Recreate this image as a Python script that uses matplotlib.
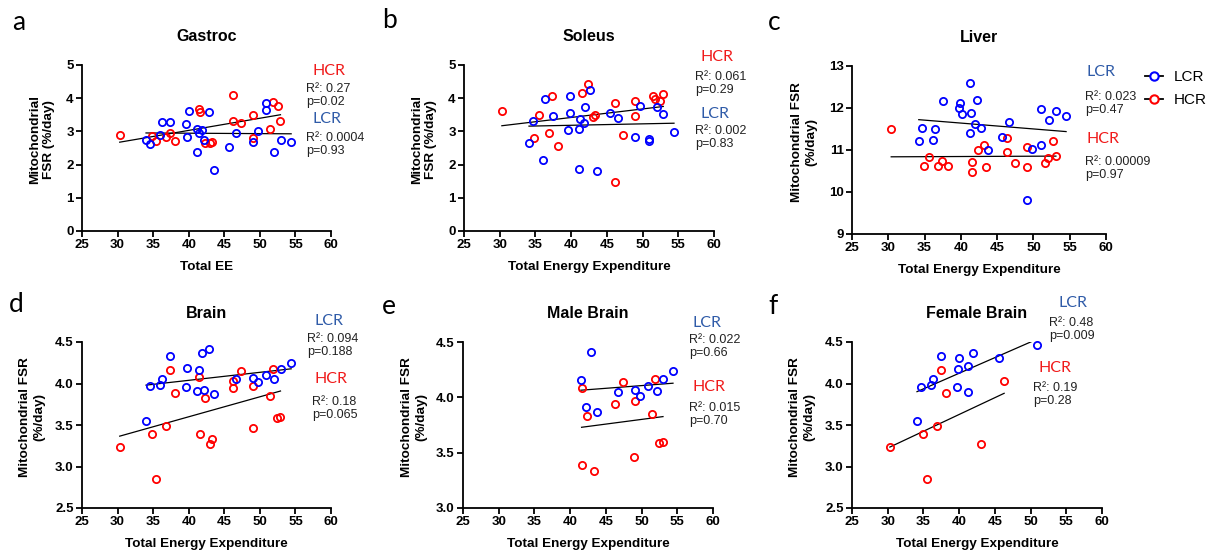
import matplotlib
matplotlib.use("Agg")
import matplotlib.pyplot as plt
from matplotlib.lines import Line2D
import numpy as np

plt.rcParams['font.family'] = ['Liberation Sans', 'DejaVu Sans']

# ---- data (x = total energy expenditure, y = mito FSR) ----
# Gastroc
gas_lcr_x = [34.0, 34.5, 36.0, 36.3, 37.4, 39.6, 40.0, 39.8, 41.1, 41.4, 41.8, 42.1, 41.1, 42.8,
             43.6, 45.6, 46.6, 49.7, 49.1, 50.9, 50.9, 53.0, 52.0, 54.4]
gas_lcr_y = [2.74, 2.62, 2.88, 3.29, 3.27, 3.21, 3.62, 2.84, 3.07, 2.96, 3.04, 2.74, 2.38, 3.59,
             1.84, 2.53, 2.96, 3.02, 2.69, 3.86, 3.65, 2.74, 2.38, 2.67]
gas_hcr_x = [30.3, 34.8, 35.4, 36.8, 37.3, 38.1, 41.5, 41.6, 42.3, 43.0, 43.3, 46.2, 46.2, 47.3,
             49.0, 49.0, 51.4, 51.8, 52.5, 52.9]
gas_hcr_y = [2.90, 2.86, 2.70, 2.83, 2.96, 2.70, 3.68, 3.59, 2.64, 2.64, 2.69, 4.10, 3.30, 3.26,
             3.49, 2.80, 3.08, 3.90, 3.75, 3.32]

# Soleus
sol_lcr_x = [34.1, 34.6, 36.0, 36.3, 37.4, 39.6, 39.8, 39.9, 41.1, 41.3, 41.1, 41.8, 42.0, 42.7,
             43.6, 45.5, 46.6, 49.0, 49.6, 50.9, 50.9, 52.0, 52.9, 54.4]
sol_lcr_y = [2.66, 3.31, 2.13, 3.97, 3.45, 3.03, 4.07, 3.56, 3.06, 3.37, 1.86, 3.26, 3.74, 4.24,
             1.80, 3.54, 3.41, 2.84, 3.77, 2.76, 2.71, 3.73, 3.52, 2.99]
sol_hcr_x = [30.3, 34.8, 35.5, 36.9, 37.3, 38.1, 41.5, 42.3, 43.1, 43.3, 46.2, 46.2, 47.3, 49.0,
             49.0, 51.4, 51.7, 52.5, 52.9]
sol_hcr_y = [3.60, 2.80, 3.50, 2.96, 4.06, 2.57, 4.16, 4.44, 3.43, 3.49, 3.86, 1.49, 2.90, 3.92,
             3.46, 4.07, 3.97, 3.93, 4.14]

# Liver
liv_lcr_x = [34.2, 34.7, 36.1, 36.5, 37.5, 39.7, 39.9, 40.1, 41.2, 41.4, 41.3, 41.9, 42.2, 42.8,
             43.7, 45.7, 46.7, 49.1, 49.8, 51.0, 51.0, 52.2, 53.1, 54.5]
liv_lcr_y = [11.22, 11.53, 11.24, 11.50, 12.16, 12.01, 12.12, 11.85, 12.60, 11.89, 11.41, 11.61,
             12.18, 11.52, 11.00, 11.30, 11.67, 9.80, 11.02, 11.11, 11.97, 11.71, 11.94, 11.82]
liv_hcr_x = [30.4, 34.9, 35.6, 36.9, 37.4, 38.2, 41.6, 41.6, 42.4, 43.2, 43.4, 46.4, 46.3, 47.4,
             49.1, 49.1, 51.6, 52.0, 52.7, 53.1]
liv_hcr_y = [11.49, 10.61, 10.83, 10.61, 10.74, 10.61, 10.72, 10.48, 10.99, 11.11, 10.60, 11.28,
             10.96, 10.68, 11.07, 10.60, 10.70, 10.80, 11.22, 10.85]

# Brain
bra_lcr_x = [34.0, 34.5, 36.0, 36.3, 37.4, 39.6, 39.8, 41.1, 41.4, 41.8, 42.1, 42.8, 43.6, 46.6,
             49.1, 49.7, 50.8, 52.0, 53.0, 54.4]
bra_lcr_y = [3.55, 3.97, 3.98, 4.05, 4.33, 3.96, 4.19, 3.91, 4.16, 4.37, 3.92, 4.41, 3.87, 4.05,
             4.07, 4.02, 4.10, 4.06, 4.18, 4.25]
bra_hcr_x = [30.3, 34.8, 35.4, 36.8, 37.3, 38.1, 41.5, 41.6, 42.3, 43.0, 43.3, 46.2, 46.2, 47.3,
             49.0, 49.0, 51.4, 51.8, 52.4, 52.9]
bra_hcr_y = [3.24, 3.39, 2.85, 3.49, 4.16, 3.88, 4.08, 3.39, 3.83, 3.27, 3.33, 4.03, 3.94, 4.15,
             3.97, 3.46, 3.85, 4.18, 3.59, 3.60]

# Male brain
mal_lcr_x = [41.5, 42.2, 42.9, 43.7, 46.65, 49.1, 49.8, 50.9, 52.1, 53.0, 54.4]
mal_lcr_y = [4.16, 3.91, 4.41, 3.87, 4.05, 4.07, 4.01, 4.10, 4.06, 4.17, 4.24]
mal_hcr_x = [41.6, 41.6, 42.4, 43.4, 46.3, 47.4, 49.0, 49.1, 51.5, 51.9, 52.5, 53.0]
mal_hcr_y = [4.08, 3.39, 3.83, 3.33, 3.94, 4.14, 3.46, 3.97, 3.85, 4.17, 3.59, 3.60]

# Female brain
fem_lcr_x = [34.1, 34.6, 36.1, 36.4, 37.4, 39.65, 39.9, 40.0, 41.2, 41.3, 41.9, 45.6, 50.9]
fem_lcr_y = [3.55, 3.96, 3.98, 4.05, 4.33, 3.96, 4.18, 4.31, 3.90, 4.21, 4.37, 4.31, 4.46]
fem_hcr_x = [30.3, 34.9, 35.5, 36.9, 37.4, 38.2, 43.1, 46.3]
fem_hcr_y = [3.24, 3.39, 2.85, 3.49, 4.16, 3.88, 3.27, 4.03]

titles = ['Gastroc', 'Soleus', 'Liver', 'Brain', 'Male Brain', 'Female Brain']
letters = ['a', 'b', 'c', 'd', 'e', 'f']
xlabels = ['Total EE'] + ['Total Energy Expenditure'] * 5
ylabels = ['Mitochondrial\nFSR (%/day)'] * 2 + ['Mitochondrial FSR\n(%/day)'] * 4
ylims = [(0, 5), (0, 5), (9, 13), (2.5, 4.5), (3.0, 4.5), (2.5, 4.5)]
yticks = [[0, 1, 2, 3, 4, 5], [0, 1, 2, 3, 4, 5], [9, 10, 11, 12, 13],
          [2.5, 3.0, 3.5, 4.0, 4.5], [3.0, 3.5, 4.0, 4.5], [2.5, 3.0, 3.5, 4.0, 4.5]]
stats_lcr = [('0.0004', '0.93'), ('0.002', '0.83'), ('0.023', '0.47'),
             ('0.094', '0.188'), ('0.022', '0.66'), ('0.48', '0.009')]
stats_hcr = [('0.27', '0.02'), ('0.061', '0.29'), ('0.00009', '0.97'),
             ('0.18', '0.065'), ('0.015', '0.70'), ('0.19', '0.28')]

data = [
    (gas_lcr_x, gas_lcr_y, gas_hcr_x, gas_hcr_y),
    (sol_lcr_x, sol_lcr_y, sol_hcr_x, sol_hcr_y),
    (liv_lcr_x, liv_lcr_y, liv_hcr_x, liv_hcr_y),
    (bra_lcr_x, bra_lcr_y, bra_hcr_x, bra_hcr_y),
    (mal_lcr_x, mal_lcr_y, mal_hcr_x, mal_hcr_y),
    (fem_lcr_x, fem_lcr_y, fem_hcr_x, fem_hcr_y),
]

W, H = 1213, 554
# axes boxes in pixels: left, right, top, bottom
boxes = [(82, 331, 65, 231), (464, 714, 65, 231), (852, 1106, 66, 234),
         (82, 331, 342, 508), (463, 713, 342, 508), (852, 1102, 342, 508)]
# y label right edge offset from the axis (pixels)
ylab_off = [27, 27, 35, 37, 36, 37]
# annotation anchors (pixels): (group label x, y), (stats x, R2 y)
ann_hcr = [((312, 71), (306, 89)), ((701, 57), (695, 77)), ((1087, 139), (1085, 162)),
           ((314, 379), (312, 402)), ((693, 387), (689, 408)), ((1039, 368), (1033, 388))]
ann_lcr = [((312, 119), (306, 138)), ((701, 114), (695, 131)), ((1087, 72), (1085, 97)),
           ((314, 321), (307, 339)), ((693, 323), (689, 340)), ((1059, 303), (1049, 323))]
letter_pos = [(12, 22), (382, 20), (768, 22), (9, 305), (382, 307), (768, 307)]

BLUE = '#0000FF'
RED = '#FF0000'
LCR_TXT = '#2F5BA8'
HCR_TXT = '#F01A1A'
CAL = ['Lato', 'DejaVu Sans']

fig = plt.figure(figsize=(W / 100, H / 100), dpi=100)

for i in range(6):
    l, r, t, b = boxes[i]
    ax = fig.add_axes([l / W, 1 - b / H, (r - l) / W, (b - t) / H])
    lx, ly, hx, hy = data[i]

    for xs, ys, col in [(hx, hy, RED), (lx, ly, BLUE)]:
        xs = np.array(xs)
        ys = np.array(ys)
        m, c = np.polyfit(xs, ys, 1)
        xl = np.array([xs.min(), xs.max()])
        ax.plot(xl, m * xl + c, color='black', lw=0.9, zorder=2)
        ax.plot(xs, ys, 'o', ms=5.2, mfc='none', mec=col, mew=1.3, zorder=3, clip_on=False)

    ax.set_xlim(25, 60)
    ax.set_xticks(range(25, 61, 5))
    ax.set_ylim(*ylims[i])
    ax.set_yticks(yticks[i])
    if i >= 3:
        ax.set_yticklabels([f'{v:.1f}' for v in yticks[i]])
    for s in ['top', 'right']:
        ax.spines[s].set_visible(False)
    for s in ['left', 'bottom']:
        ax.spines[s].set_linewidth(1.3)
    ax.tick_params(direction='out', length=4, width=1.3, labelsize=9.5, pad=2)
    for lab in ax.get_xticklabels() + ax.get_yticklabels():
        lab.set_fontweight('bold')
    ax.set_title(titles[i], fontsize=11.5, fontweight='bold', pad=17)
    ax.set_xlabel(xlabels[i], fontsize=9.7, fontweight='bold', labelpad=7)
    ax.set_ylabel(ylabels[i], fontsize=9.7, fontweight='bold')
    ax.yaxis.set_label_coords(-ylab_off[i] / (r - l), 0.55)

    # group labels and statistics
    for (gpos, spos), st, name, tc in [(ann_hcr[i], stats_hcr[i], 'HCR', HCR_TXT),
                                         (ann_lcr[i], stats_lcr[i], 'LCR', LCR_TXT)]:
        fig.text(gpos[0] / W, 1 - gpos[1] / H, name, color=tc, fontsize=11.5,
                 family=CAL, va='center', ha='left')
        fig.text(spos[0] / W, 1 - spos[1] / H, f'R\u00b2: {st[0]}', fontsize=9,
                 va='center', ha='left', color='#222222')
        fig.text(spos[0] / W, 1 - (spos[1] + 13) / H, f'p={st[1]}', fontsize=9,
                 va='center', ha='left', color='#222222')

    fig.text(letter_pos[i][0] / W, 1 - letter_pos[i][1] / H, letters[i], fontsize=19,
             family=CAL, va='center', ha='left')

handles = [Line2D([], [], color='black', lw=1.3, marker='o', ms=6, mfc='white', mec=BLUE, mew=1.5),
           Line2D([], [], color='black', lw=1.3, marker='o', ms=6, mfc='white', mec=RED, mew=1.5)]
fig.legend(handles, ['LCR', 'HCR'], loc='upper left', bbox_to_anchor=(1145 / W, 1 - 70 / H),
           frameon=False, fontsize=11, handlelength=1.2, handletextpad=0.65, labelspacing=0.62,
           borderpad=0, borderaxespad=0)

fig.savefig('out.png', dpi=100)
